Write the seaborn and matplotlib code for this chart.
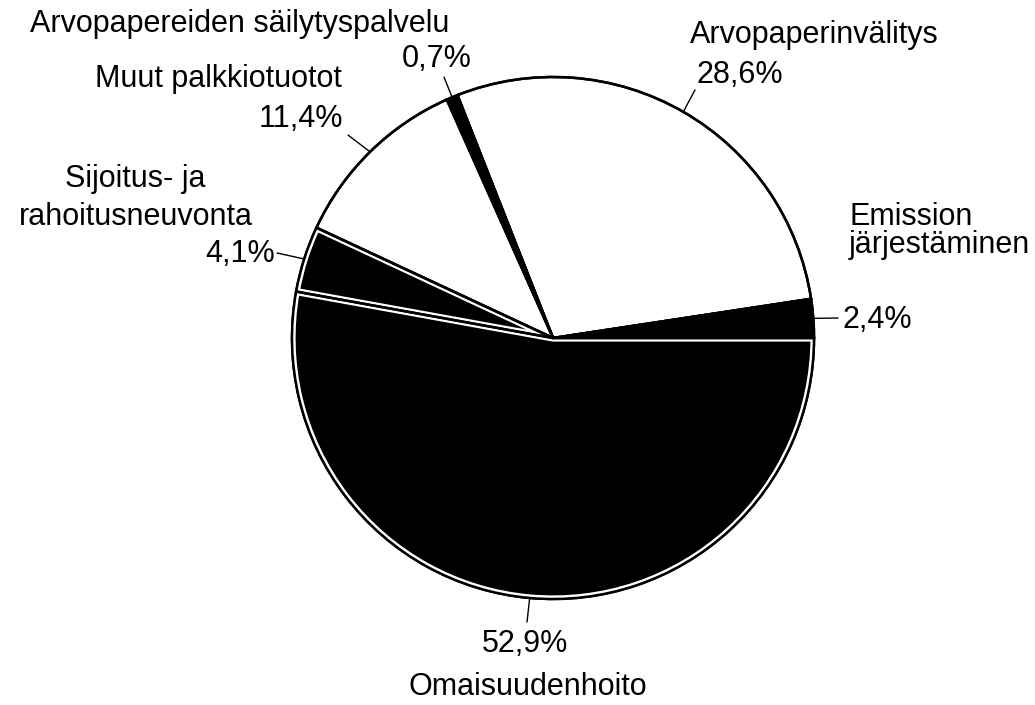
import numpy as np
import matplotlib
matplotlib.use("Agg")
import matplotlib.pyplot as plt
from matplotlib.patches import Wedge
import seaborn as sns

# Palkkiotuottojen jakauma (%)
segments = ["Emission\njärjestäminen", "Arvopaperinvälitys", "Arvopapereiden säilytyspalvelu",
            "Muut palkkiotuotot", "Sijoitus- ja\nrahoitusneuvonta", "Omaisuudenhoito"]
shares = [2.4, 28.6, 0.7, 11.4, 4.1, 52.9]
dark = [True, False, True, False, True, True]
inner_border = [False, False, False, False, True, True]

sns.set_theme(style="white")
plt.rcParams["font.family"] = ["Liberation Sans", "DejaVu Sans"]

fig = plt.figure(figsize=(10.35, 7.05), dpi=100)
ax = fig.add_axes([0, 0, 1, 1])

cx, cy, R = 553, 705 - 338, 261
face = ["black" if d else "white" for d in dark]

wedges, _ = ax.pie(shares, colors=face, startangle=0, counterclock=True,
                   center=(cx, cy), radius=R, frame=True,
                   wedgeprops=dict(edgecolor="black", linewidth=1.8))

# white inner border on the two dark slices
for w, b in zip(wedges, inner_border):
    if b:
        p = Wedge((cx, cy), R, w.theta1, w.theta2, facecolor="none",
                  edgecolor="white", linewidth=5.2, zorder=3)
        ax.add_patch(p)
        p.set_clip_path(w)

ax.pie(shares, startangle=0, counterclock=True, center=(cx, cy), radius=R, frame=True,
       wedgeprops=dict(fill=False, edgecolor="black", linewidth=1.8, zorder=4))
ax.set_xlim(0, 1035)
ax.set_ylim(0, 705)
ax.set_aspect("equal")
ax.axis("off")

pct = [f"{v:.1f}".replace(".", ",") + "%" for v in shares]

# leader line end points (image px)
leader_end = [(838, 318), (695, 90), (444, 77), (348, 135), (277, 253), (527, 622)]
for w, (ex, ey) in zip(wedges, leader_end):
    mid = np.deg2rad((w.theta1 + w.theta2) / 2)
    sx, sy = cx + R * np.cos(mid), cy + R * np.sin(mid)
    ax.plot([sx, ex], [sy, 705 - ey], color="black", lw=1.0, zorder=5)

fs = 22
def txt(x, y, s, ha):
    ax.text(x, 705 - y, s, ha=ha, va="baseline", fontsize=fs, color="black")

name_lines = [s.split("\n") for s in segments]
# Emission järjestäminen
txt(849, 225, name_lines[0][0], "left")
txt(849, 253, name_lines[0][1], "left")
txt(842, 328, pct[0], "left")
# Arvopaperinvälitys
txt(690, 43, name_lines[1][0], "left")
txt(697, 83, pct[1], "left")
# Säilytyspalvelu
txt(240, 32, name_lines[2][0], "center")
txt(437, 67, pct[2], "center")
# Muut
txt(218, 87, name_lines[3][0], "center")
txt(343, 127, pct[3], "right")
# Sijoitus- ja rahoitusneuvonta
txt(135, 187, name_lines[4][0], "center")
txt(136, 225, name_lines[4][1], "center")
txt(275, 262, pct[4], "right")
# Omaisuudenhoito
txt(525, 652, pct[5], "center")
txt(528, 695, name_lines[5][0], "center")

fig.savefig("out.png", dpi=100, facecolor="white")
